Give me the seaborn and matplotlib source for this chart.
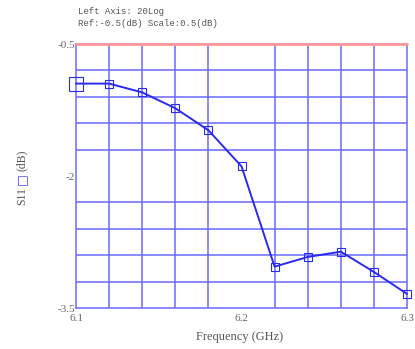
import numpy as np
import pandas as pd
import matplotlib
matplotlib.use('Agg')
import matplotlib.pyplot as plt
import seaborn as sns

# S11 measurement, 6.1 - 6.3 GHz
freq_ghz = [6.10, 6.12, 6.14, 6.16, 6.18, 6.20, 6.22, 6.24, 6.26, 6.28, 6.30]
s11_db = [-0.95, -0.95, -1.05, -1.23, -1.48, -1.89, -3.03, -2.92, -2.86, -3.09, -3.34]
x_ticks = [6.1, 6.2, 6.3]
x_tick_labels = ['6.1', '6.2', '6.3']
y_ticks = [-0.5, -2.0, -3.5]
y_tick_labels = ['-0.5', '-2', '-3.5']

df = pd.DataFrame({'freq': freq_ghz, 's11': s11_db})

sns.set_style('white')
plt.rcParams['font.family'] = ['Liberation Serif', 'DejaVu Sans']

fig = plt.figure(figsize=(4.15, 3.49), dpi=100)
ax = fig.add_axes([76 / 415, 41 / 349, 331 / 415, 264 / 349])

grid_col = '#6a6aff'
line_col = '#2a2af0'

ax.set_xlim(6.1, 6.3)
ax.set_ylim(-3.5, -0.5)
ax.set_xticks(np.linspace(6.1, 6.3, 11), minor=True)
ax.set_yticks(np.linspace(-3.5, -0.5, 11), minor=True)
ax.grid(which='minor', color=grid_col, lw=1.1)
ax.set_xticks(x_ticks)
ax.set_xticklabels(x_tick_labels)
ax.set_yticks(y_ticks)
ax.set_yticklabels(y_tick_labels)
ax.tick_params(which='both', length=0, labelsize=8, labelcolor='#666666')
ax.tick_params(axis='x', pad=4)
ax.tick_params(axis='y', pad=1)
for s in ax.spines.values():
    s.set_color(grid_col)
    s.set_linewidth(1.1)

# reference line
ax.axhline(-0.5, color='#ff9999', lw=2, zorder=3, clip_on=False)

sns.lineplot(data=df, x='freq', y='s11', ax=ax, color=line_col, lw=1.4,
             marker='s', markersize=6, markerfacecolor='none',
             markeredgecolor=line_col, markeredgewidth=0.8, zorder=4,
             markevery=list(range(1, len(freq_ghz))))
# first marker drawn bigger
ax.plot(df['freq'].iloc[:1], df['s11'].iloc[:1], marker='s', markersize=10,
        mfc='none', mec=line_col, mew=0.8, zorder=4, clip_on=False)
for l in ax.lines:
    l.set_clip_on(False)

ax.set_xlabel('')
ax.set_ylabel('')

fig.text(240 / 415, 1 - 337 / 349, 'Frequency (GHz)', ha='center', va='center',
         fontsize=9, color='#555555')
fig.text(22 / 415, 1 - 196 / 349, 'S11', rotation=90, ha='center', va='center',
         fontsize=8.5, color='#555555')
fig.text(22 / 415, 1 - 179 / 349, '\u25a1', rotation=90, ha='center', va='center',
         fontsize=9, color='#4444ff', family=['DejaVu Sans'])
fig.text(22 / 415, 1 - 160 / 349, '(dB)', rotation=90, ha='center', va='center',
         fontsize=8.5, color='#555555')

fig.text(78 / 415, 1 - 12 / 349, 'Left Axis: 20Log', ha='left', va='center',
         fontsize=6.5, color='#555555', family=['Liberation Mono'])
fig.text(78 / 415, 1 - 23 / 349, 'Ref:-0.5(dB) Scale:0.5(dB)', ha='left', va='center',
         fontsize=6.5, color='#555555', family=['Liberation Mono'])

fig.savefig('out.png', dpi=100)
